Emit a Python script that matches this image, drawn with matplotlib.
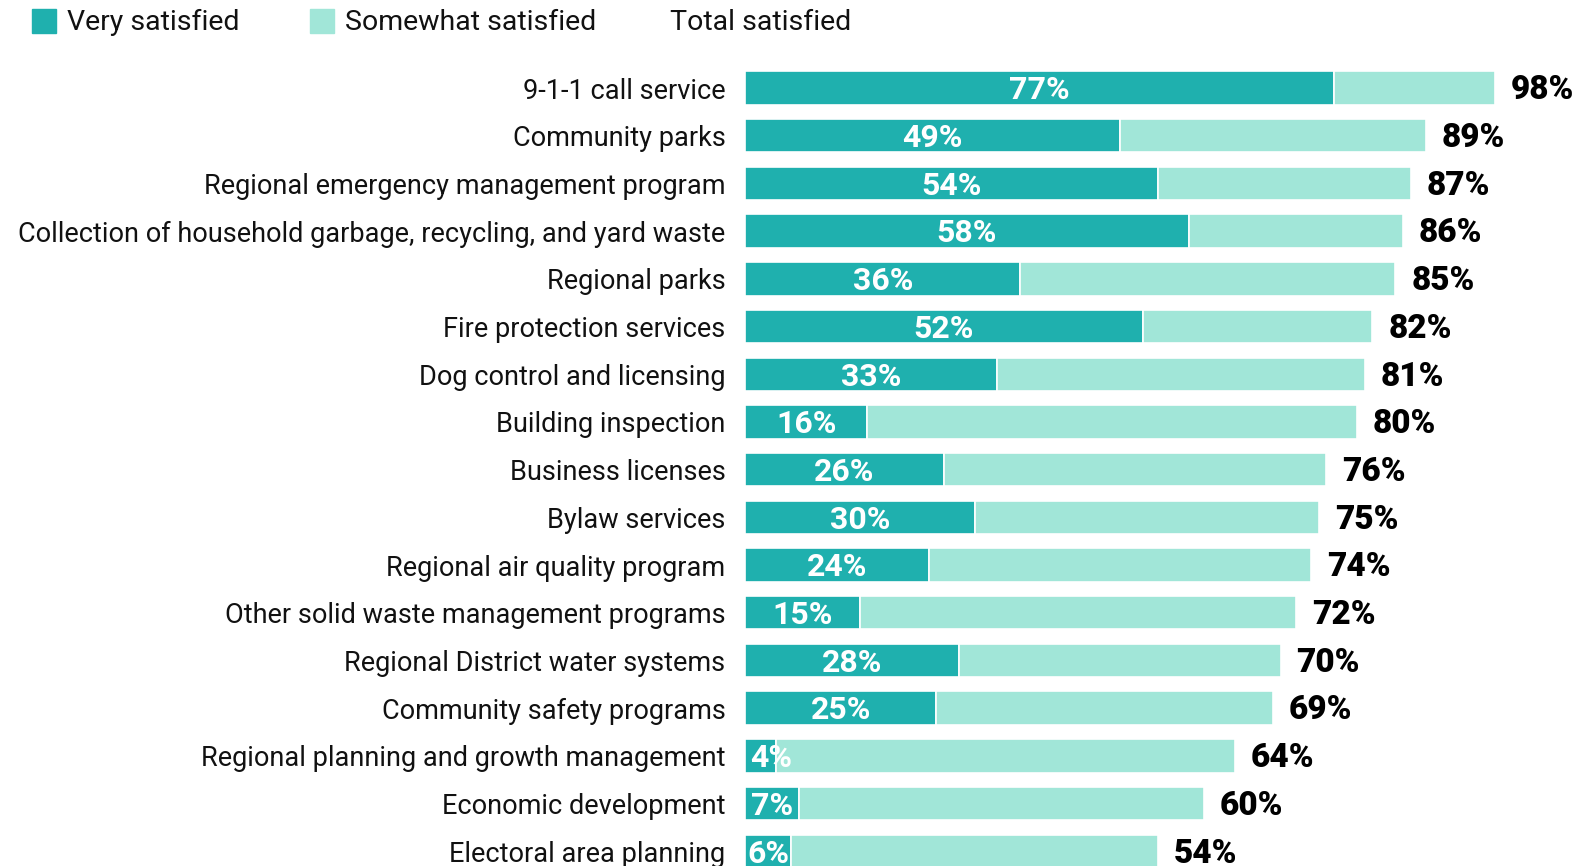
import matplotlib
matplotlib.use("Agg")
import matplotlib.pyplot as plt
from matplotlib.patches import Rectangle

plt.rcParams['font.family'] = ['Roboto', 'DejaVu Sans']

# satisfaction by service (%)
services = [
    "9-1-1 call service",
    "Community parks",
    "Regional emergency management program",
    "Collection of household garbage, recycling, and yard waste",
    "Regional parks",
    "Fire protection services",
    "Dog control and licensing",
    "Building inspection",
    "Business licenses",
    "Bylaw services",
    "Regional air quality program",
    "Other solid waste management programs",
    "Regional District water systems",
    "Community safety programs",
    "Regional planning and growth management",
    "Economic development",
    "Electoral area planning",
]
very = [77, 49, 54, 58, 36, 52, 33, 16, 26, 30, 24, 15, 28, 25, 4, 7, 6]
total = [98, 89, 87, 86, 85, 82, 81, 80, 76, 75, 74, 72, 70, 69, 64, 60, 54]
somewhat = [t - v for t, v in zip(total, very)]

dark = '#1fb0ae'
light = '#a1e6d8'

W, H = 1586, 866
fig = plt.figure(figsize=(W / 100, H / 100), dpi=100)
ax = fig.add_axes([745 / W, 0, 765 / W, 1])

y = list(range(len(services)))
ax.barh(y, very, height=0.70, color=dark, edgecolor='white', linewidth=1.2)
ax.barh(y, somewhat, left=very, height=0.70, color=light, edgecolor='white', linewidth=1.2)

ax.set_xlim(0, 100)
ax.set_ylim(16.31, -1.845)

for i, (v, t) in enumerate(zip(very, total)):
    if v < 5:
        ax.text(0.7, i + 0.05, f"{v}%", ha='left', va='center', color='white',
                fontsize=23, fontweight='bold')
    else:
        ax.text(max(v / 2, 3.0), i + 0.05, f"{v}%", ha='center', va='center',
                color='white', fontsize=23, fontweight='bold')
    ax.text(t + 2.1, i + 0.05, f"{t}%", ha='left', va='center', color='black',
            fontsize=24, fontweight='heavy')

ax.set_yticks(y)
ax.set_yticklabels(services, fontsize=19.5, color='#111111')
ax.tick_params(axis='y', length=0, pad=14)
ax.tick_params(axis='x', bottom=False, labelbottom=False)
for s in ax.spines.values():
    s.set_visible(False)

# legend across the top
legend = [(32, dark, "Very satisfied"), (310, light, "Somewhat satisfied"), (None, None, "Total satisfied")]
text_x = [67, 345, 670]
for (sx, col, lab), tx in zip(legend, text_x):
    if sx is not None:
        fig.patches.append(Rectangle((sx / W, 1 - 33 / H), 24 / W, 24 / H,
                                     transform=fig.transFigure, color=col))
    fig.text(tx / W, 1 - 22 / H, lab, ha='left', va='center', fontsize=20.5, color='#111111')

fig.savefig('out.png', dpi=100)
